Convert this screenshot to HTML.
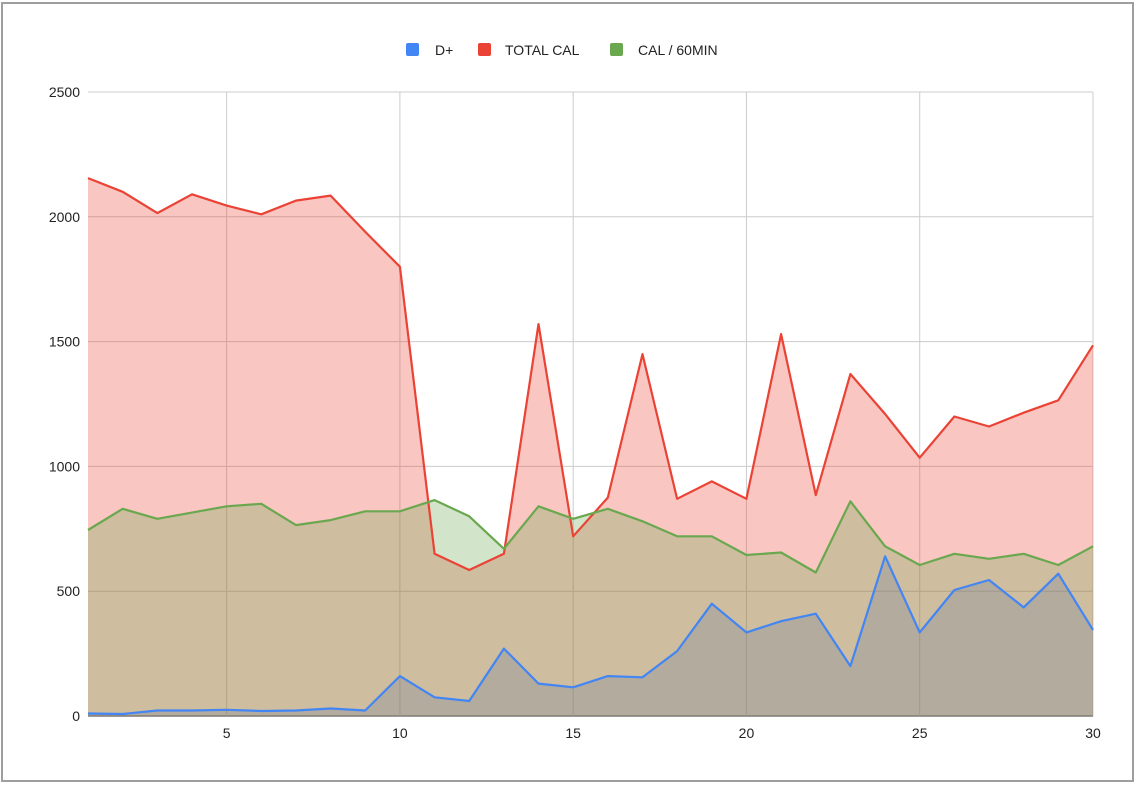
<!DOCTYPE html>
<html><head><meta charset="utf-8"><style>
body{margin:0;background:#fff;width:1136px;height:784px;overflow:hidden;font-family:"Liberation Sans",Arial,sans-serif}
</style></head><body>
<svg width="1136" height="784" xmlns="http://www.w3.org/2000/svg">
<rect x="2" y="3" width="1131" height="778" fill="#fff" stroke="#9e9e9e" stroke-width="2"/>
<g id="grid"></g>
<g id="areas"></g>
<g id="lines"></g>
<g id="axes" font-size="14" fill="#222"></g>
<g font-size="14" fill="#222">
<g><rect x="406" y="43" width="13" height="13" rx="2" fill="#4285f4"/><text x="435" y="55">D+</text></g>
<g><rect x="478" y="43" width="13" height="13" rx="2" fill="#ea4335"/><text x="505" y="55">TOTAL CAL</text></g>
<g><rect x="610" y="43" width="13" height="13" rx="2" fill="#6aa84f"/><text x="638" y="55">CAL / 60MIN</text></g>
</g>
</svg>
<script>
const days=[1,2,3,4,5,6,7,8,9,10,11,12,13,14,15,16,17,18,19,20,21,22,23,24,25,26,27,28,29,30];
const totalCal=[2155,2100,2015,2090,2045,2010,2065,2085,1940,1800,650,585,650,1570,720,875,1450,870,940,870,1530,885,1370,1210,1035,1200,1160,1215,1265,1485];
const calPer60=[745,830,790,815,840,850,765,785,820,820,865,800,670,840,790,830,780,720,720,645,655,575,860,680,605,650,630,650,605,680];
const dPlus=[10,8,22,22,25,20,22,30,22,160,75,60,270,130,115,160,155,260,450,335,380,410,200,640,335,505,545,435,570,345];
const yTicks=[0,500,1000,1500,2000,2500];
const xTicks=[5,10,15,20,25,30];
const NS="http://www.w3.org/2000/svg";
const X0=88,X1=1093,Y0=716,Y1=92;
const xs=v=>X0+(v-1)/(29)*(X1-X0);
const ys=v=>Y0-v/2500*(Y0-Y1);
function mk(tag,attrs,parent){const e=document.createElementNS(NS,tag);for(const k in attrs)e.setAttribute(k,attrs[k]);parent.appendChild(e);return e;}
const grid=document.getElementById('grid'),axes=document.getElementById('axes'),areas=document.getElementById('areas'),lines=document.getElementById('lines');
yTicks.forEach(t=>{
  const l=mk('line',{x1:X0,x2:X1,y1:ys(t),y2:ys(t),stroke:t===0?'#333':'#ccc','stroke-width':1},grid);
  
  
  const tx=mk('text',{x:80,y:ys(t)+5,'text-anchor':'end'},axes);tx.textContent=t;
  
  
});
xTicks.forEach(t=>{
  const l=mk('line',{x1:xs(t),x2:xs(t),y1:Y1,y2:Y0,stroke:'#ccc','stroke-width':1},grid);
  
  
  const tx=mk('text',{x:xs(t),y:738,'text-anchor':'middle'},axes);tx.textContent=t;
  
  
});
const series=[[dPlus,'#4285f4','d-plus'],[totalCal,'#ea4335','total-cal'],[calPer60,'#6aa84f','cal-per-60min']];
series.forEach(([vals,c,n])=>{
  const pts=vals.map((v,i)=>xs(days[i]).toFixed(1)+','+ys(v).toFixed(1));
  const a=mk('polygon',{points:xs(days[0])+','+Y0+' '+pts.join(' ')+' '+xs(days[days.length-1])+','+Y0,fill:c,'fill-opacity':0.3},areas);
  
  
});
series.forEach(([vals,c,n])=>{
  const pts=vals.map((v,i)=>xs(days[i]).toFixed(1)+','+ys(v).toFixed(1));
  const l=mk('polyline',{points:pts.join(' '),fill:'none',stroke:c,'stroke-width':2.2,'stroke-linejoin':'round'},lines);
  
  
});
</script>
</body></html>
